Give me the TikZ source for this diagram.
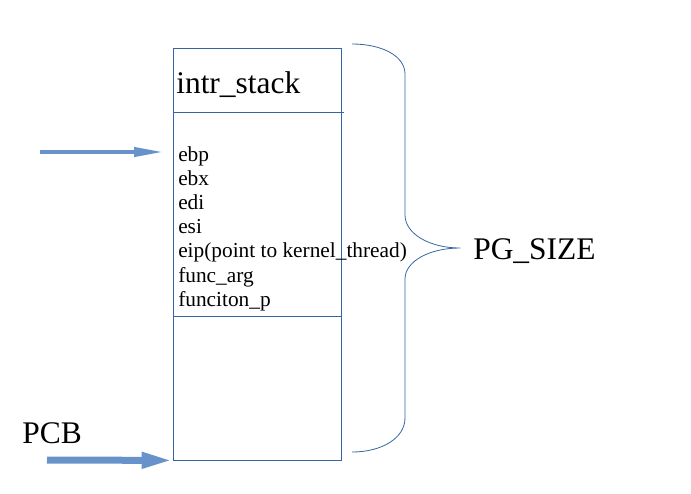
\documentclass[tikz,border=0pt]{standalone}
\usepackage{fontspec}
\setmainfont{Liberation Serif}
\usetikzlibrary{arrows.meta}
\definecolor{lineblue}{HTML}{3465A4}
\definecolor{arrowblue}{HTML}{6893CA}

\begin{document}
\begin{tikzpicture}[x=0.75pt, y=-0.75pt,
                    c/.style={lineblue, line width=0.6pt, line join=round},
                    big/.style={inner sep=0pt, font=\fontsize{23.6}{28}\selectfont},
                    reg/.style={inner sep=0pt, font=\fontsize{16}{19}\selectfont},
                    blockarrow/.style={arrowblue, line cap=butt}]
  \useasboundingbox (0,0) rectangle (691,493);
  % stack frame
  \node[draw=lineblue, line width=0.6pt, minimum width=126pt, minimum height=309pt,
        inner sep=0pt] (stack) at (257,254) {};
  \draw[c] (173,112) -- (344,112);
  \draw[c] (173,316) -- (341,316);
  \node[big, anchor=base west] (intr) at (176,93) {intr\_stack};
  \foreach \reg [count=\i from 0] in {ebp,ebx,edi,esi,{eip(point to kernel\_thread)},func\_arg,funciton\_p}
    \node[reg, anchor=base west] (r\i) at (178,161+24.2*\i) {\reg};
  % brace
  \draw[c] (352,44) .. controls (382,44) and (405,56) .. (405,74) -- (405,215)
           .. controls (405,234) and (430,248) .. (460,248)
           .. controls (430,248) and (405,261) .. (405,279) -- (405,418)
           .. controls (405,438) and (382,452) .. (352,452);
  \node[big, anchor=west] (pgsize) at (473,251) {PG\_SIZE};
  % arrows
  \coordinate (espfrom) at (40,152);
  \coordinate (espto) at (164,152);
  \draw[blockarrow, line width=3pt, -{Triangle[length=22.5pt, width=6.75pt]}] (espfrom) -- (espto);
  \node[big, anchor=west] (pcb) at (22,433) {PCB};
  \coordinate (pcbfrom) at (47,460);
  \draw[blockarrow, line width=5.25pt, -{Triangle[length=23.25pt, width=11.25pt]}] (pcbfrom) -- (stack.south west);
\end{tikzpicture}
\end{document}
